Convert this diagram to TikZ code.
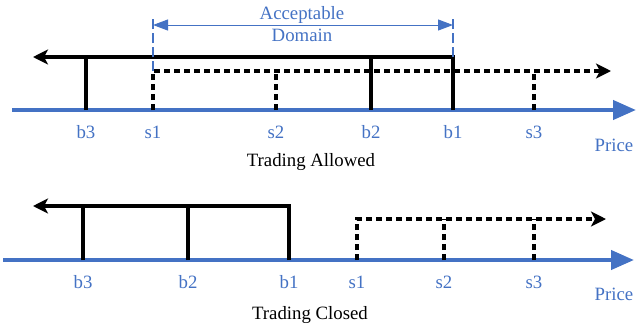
\documentclass[tikz,border=0pt]{standalone}
\usepackage{fontspec}
\setmainfont{Liberation Serif}
\usetikzlibrary{arrows.meta, positioning}
\definecolor{axisblue}{RGB}{68,114,196}
\tikzstyle{axis} = [line width=2.1pt, draw=axisblue, -{Triangle[length=11.5pt,width=9.5pt]}]
\tikzstyle{buy} = [line width=1.6pt, draw=black]
\tikzstyle{sell} = [line width=1.6pt, draw=black, dash pattern=on 3pt off 2pt]
\tikzstyle{arrow} = [-{Stealth[length=7.5pt,width=7.5pt,inset=2pt]}]
\tikzstyle{bound} = [line width=0.6pt, draw=axisblue, dash pattern=on 5pt off 2pt]
\tikzstyle{span} = [line width=0.5pt, draw=axisblue, {Triangle[length=7.5pt,width=5.5pt]}-{Triangle[length=7.5pt,width=5.5pt]}]
\tikzstyle{price} = [text=axisblue, font=\fontsize{9.4}{11}\selectfont, inner sep=1pt]
\tikzstyle{caption} = [font=\fontsize{9.4}{11}\selectfont, inner sep=1pt]

\begin{document}
\begin{tikzpicture}[x=0.5pt, y=-0.5pt]
		\useasboundingbox (0,0) rectangle (638,328);
		
		% Trading allowed
		\coordinate (astart) at (12,110);
		\coordinate (aend) at (636,110);
		\coordinate (ab3) at (86,110);
		\coordinate (as1) at (153,110);
		\coordinate (as2) at (276,110);
		\coordinate (ab2) at (371,110);
		\coordinate (ab1) at (453,110);
		\coordinate (as3) at (534,110);
		\coordinate (abuy) at (33,57);
		\coordinate (asell) at (611,71);
		\coordinate (atop) at (0,17);
		
		\draw [axis] (astart) -- (aend);
		\draw [buy, arrow] (ab1) |- (abuy);
		\draw [buy] (ab2) -- (ab2 |- abuy);
		\draw [buy] (ab3) -- (ab3 |- abuy);
		\draw [sell, arrow] (as1) |- (asell);
		\draw [sell] (as2) -- (as2 |- asell);
		\draw [sell] (as3) -- (as3 |- asell);
		
		\draw [bound] (as1 |- asell) -- (as1 |- atop);
		\draw [bound] (ab1 |- abuy) -- (ab1 |- atop);
		\draw [span] (153,25) -- (453,25);
		\node (domain) [price, align=center] at (302,24) {Acceptable\\Domain};
		
		\node (lab3) [price] at (86,132) {b3};
		\node (las1) [price] at (153,132) {s1};
		\node (las2) [price] at (276,132) {s2};
		\node (lab2) [price] at (371,132) {b2};
		\node (lab1) [price] at (453,132) {b1};
		\node (las3) [price] at (534,132) {s3};
		\node (aprice) [price] at (614,145) {Price};
		\node (allowed) [caption] at (311,162) {Trading Allowed};
		
		% Trading closed
		\coordinate (cstart) at (3,260);
		\coordinate (cend) at (634,260);
		\coordinate (cb3) at (83,260);
		\coordinate (cb2) at (188,260);
		\coordinate (cb1) at (289,260);
		\coordinate (cs1) at (357,260);
		\coordinate (cs2) at (444,260);
		\coordinate (cs3) at (534,260);
		\coordinate (cbuy) at (33,206);
		\coordinate (csell) at (606,219);
		
		\draw [axis] (cstart) -- (cend);
		\draw [buy, arrow] (cb1) |- (cbuy);
		\draw [buy] (cb2) -- (cb2 |- cbuy);
		\draw [buy] (cb3) -- (cb3 |- cbuy);
		\draw [sell, arrow] (cs1) |- (csell);
		\draw [sell] (cs2) -- (cs2 |- csell);
		\draw [sell] (cs3) -- (cs3 |- csell);
		
		\node (lcb3) [price] at (83,282) {b3};
		\node (lcb2) [price] at (188,282) {b2};
		\node (lcb1) [price] at (289,282) {b1};
		\node (lcs1) [price] at (357,282) {s1};
		\node (lcs2) [price] at (444,282) {s2};
		\node (lcs3) [price] at (534,282) {s3};
		\node (cprice) [price] at (614,294) {Price};
		\node (closed) [caption] at (310,315) {Trading Closed};
		
	\end{tikzpicture}
\end{document}
